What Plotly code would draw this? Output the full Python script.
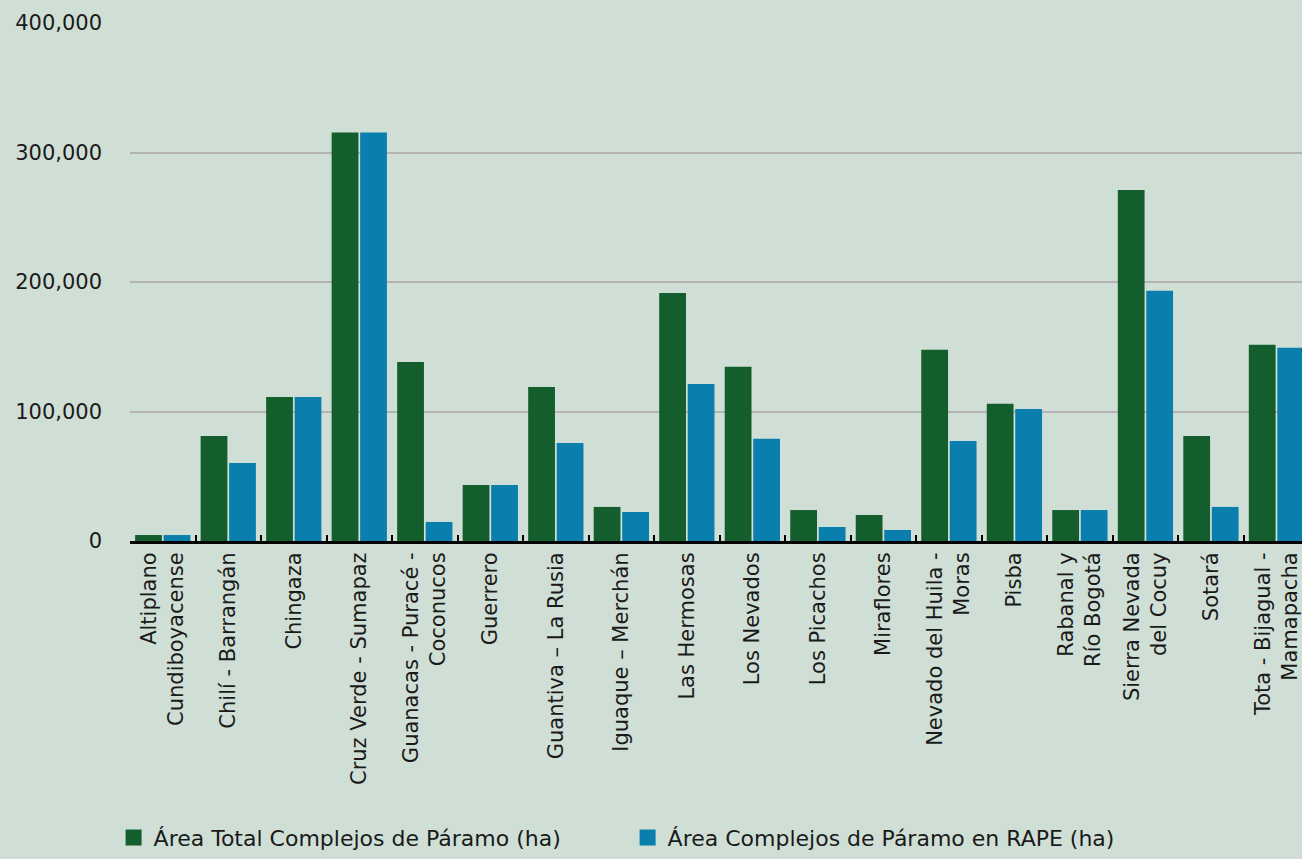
import plotly.graph_objects as go

categories = [
    "Altiplano<br>Cundiboyacense", "Chilí - Barrangán", "Chingaza", "Cruz Verde - Sumapaz",
    "Guanacas - Puracé -<br>Coconucos", "Guerrero", "Guantiva – La Rusia", "Iguaque – Merchán",
    "Las Hermosas", "Los Nevados", "Los Picachos", "Miraflores",
    "Nevado del Huila -<br>Moras", "Pisba", "Rabanal y<br>Río Bogotá", "Sierra Nevada<br>del Cocuy",
    "Sotará", "Tota - Bijagual -<br>Mamapacha",
]
area_total = [4600, 81000, 111200, 315500, 138300, 43200, 119000, 26300,
              191600, 134500, 23900, 20100, 147600, 105900, 23900, 271000, 81000, 151500]
area_rape = [4600, 60200, 111200, 315500, 14700, 43200, 75700, 22400,
             121200, 78900, 10800, 8500, 77200, 102000, 23900, 193200, 26300, 149200]
series_names = ["Área Total Complejos de Páramo (ha)", "Área Complejos de Páramo en RAPE (ha)"]
y_ticks = [0, 100000, 200000, 300000, 400000]

GREEN = "#145e2d"
BLUE = "#0a7fae"
BG = "#d0dfd5"
FONT = "DejaVu Sans"

fig = go.Figure()
fig.add_trace(go.Bar(x=categories, y=area_total, name=series_names[0], marker_color=GREEN,
                     marker_line_width=0, showlegend=False))
fig.add_trace(go.Bar(x=categories, y=area_rape, name=series_names[1], marker_color=BLUE,
                     marker_line_width=0, showlegend=False))
# legend proxies with large square markers
for nm, col in zip(series_names, [GREEN, BLUE]):
    fig.add_trace(go.Scatter(x=[None], y=[None], mode="markers", name=nm,
                             marker=dict(symbol="square", size=22, color=col)))

fig.update_layout(
    width=1302, height=859,
    paper_bgcolor=BG, plot_bgcolor=BG,
    margin=dict(l=130, r=0, t=23, b=318, pad=0),
    barmode="group", bargap=0.13, bargroupgap=0.06,
    font=dict(family=FONT, color="#1a1a1a"),
    showlegend=True,
    legend=dict(orientation="h", x=-0.014, xanchor="left", y=-0.6135, yanchor="bottom",
                font=dict(size=22, family=FONT, color="#1a1a1a"),
                entrywidth=469, entrywidthmode="pixels", bgcolor="rgba(0,0,0,0)",
                itemsizing="trace"),
)
fig.update_xaxes(
    type="category", range=[-0.5, 17.39], tickangle=-90,
    tickfont=dict(size=21, family=FONT, color="#1a1a1a"),
    showline=True, linecolor="#000000", linewidth=3,
    ticks="inside", tickson="boundaries", ticklen=6, tickwidth=2, tickcolor="#000000",
    showgrid=False, fixedrange=True,
)
fig.update_yaxes(
    range=[0, 400000], tickvals=y_ticks, tickformat=",",
    tickfont=dict(size=21, family=FONT, color="#1a1a1a"),
    showgrid=True, gridcolor="#b3b3b3", gridwidth=2, zeroline=False,
    showline=False, ticks="", ticklabelstandoff=27,
)

fig.write_html("out.html")
